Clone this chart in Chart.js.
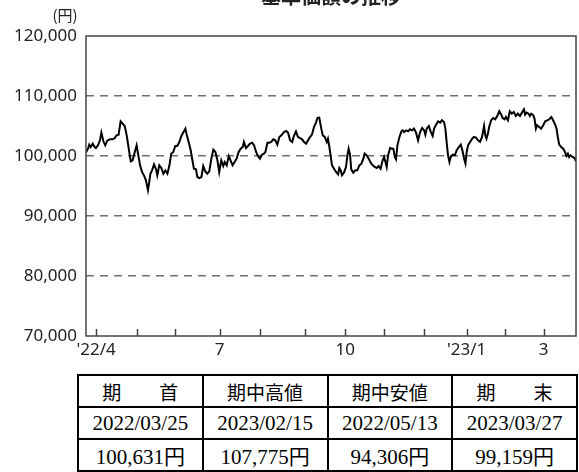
<!DOCTYPE html>
<html lang="ja">
<head>
<meta charset="utf-8">
<script src="https://cdn.jsdelivr.net/npm/chart.js@4/dist/chart.umd.min.js"></script>
<style>
  body { margin: 0; background: #fff; width: 579px; height: 472px; overflow: hidden; position: relative; }
  #chartBox { position: absolute; left: 0; top: 0; width: 579px; height: 372px; }
  table {
    position: absolute; left: 77px; top: 374px; width: 501px;
    border-collapse: collapse; table-layout: fixed;
    font-family: "Liberation Serif", "Noto Sans CJK JP", serif; font-size: 21px; color: #000;
  }
  td { border: 2px solid #000; height: 30px; padding: 0; text-align: center; }
  #headRow td { font-size: 19px; }
</style>
</head>
<body>
<div id="chartBox"><canvas id="navChart" width="579" height="372"></canvas></div>
<table>
  <tr id="headRow"></tr>
  <tr id="dateRow"></tr>
  <tr id="valueRow"></tr>
</table>
<script>
// trading days counted from 2022/03/25 (day 0)
const tradingDay = [
  0, 1.0, 1.6, 2.3, 3.3, 4.3, 4.9, 5.9, 6.9, 7.6, 8.6, 9.5, 10.5, 11.8, 13.2, 14.2, 15.1, 16.1, 17.1, 18.1,
  19.1, 20.1, 21.1, 22.1, 23.0, 24.0, 25.0, 25.7, 26.7, 27.7, 28.6, 29.6, 30.6, 31.2, 31.8, 32.6, 33.6, 34.6, 35.2, 36.2,
  37.2, 38.2, 39.2, 40.2, 41.2, 42.1, 43.1, 44.1, 45.1, 46.1, 47.1, 49.1, 49.7, 50.7, 51.7, 52.7, 53.3, 54.3, 55.0, 56.0,
  57.0, 57.9, 58.9, 59.9, 60.9, 61.9, 62.9, 63.9, 64.9, 65.8, 66.8, 67.8, 68.5, 69.5, 70.5, 71.4, 72.4, 73.4, 74.4, 75.4,
  76.4, 77.4, 78.0, 79.0, 80.0, 81.0, 82.0, 83.0, 84.0, 84.9, 85.9, 86.9, 87.9, 88.6, 89.6, 90.5, 91.5, 92.5, 93.5, 94.5,
  95.5, 96.5, 97.8, 98.8, 99.8, 100.8, 101.8, 102.7, 103.7, 104.7, 105.7, 106.7, 107.7, 108.7, 109.7, 110.6, 111.6, 112.6, 113.6, 114.3,
  115.2, 116.2, 116.9, 117.9, 118.9, 119.5, 120.2, 120.8, 121.5, 122.5, 123.5, 124.5, 125.1, 125.8, 126.4, 127.4, 128.4, 129.1, 129.7, 130.4,
  131.0, 132.0, 133.0, 134.0, 135.0, 136.0, 137.0, 137.6, 138.6, 139.6, 140.6, 141.6, 142.6, 143.6, 144.5, 145.5, 146.5, 147.2, 147.9, 148.5,
  149.2, 150.2, 151.2, 151.8, 152.5, 153.1, 153.8, 154.8, 155.8, 156.4, 157.1, 158.1, 159.1, 160.0, 161.0, 162.0, 163.0, 164.0, 165.0, 166.0,
  167.0, 167.6, 168.3, 169.3, 170.2, 171.2, 171.9, 172.9, 173.9, 174.9, 175.8, 176.8, 177.5, 178.1, 178.8, 179.5, 180.1, 181.1, 182.1, 183.1,
  184.1, 185.1, 186.0, 186.7, 187.4, 188.0, 188.7, 189.7, 190.7, 191.6, 192.6, 193.6, 194.6, 195.6, 196.6, 197.2, 197.8, 198.5, 199.1, 200.1,
  201.1, 202.1, 203.1, 204.1, 205.1, 205.7, 206.7, 207.4, 208.4, 209.3, 210.3, 211.3, 212.3, 213.3, 214.3, 215.3, 216.3, 216.9, 217.6, 218.6,
  219.2, 219.9, 220.9, 221.5, 222.2, 222.8, 223.8, 224.8, 225.8, 226.8, 227.8, 228.8, 229.8, 230.7, 231.7, 232.4, 233.0, 233.7, 234.7, 235.7,
  236.7, 237.3, 238.0, 238.6, 239.3, 240.3, 241.3, 241.9
];
const nav = [
  100631, 101220, 101890, 101500, 102060, 101500, 101330, 101780, 102610, 103890, 102450, 101780, 102560, 102780, 102780, 103000, 103450, 103560, 105780, 105390,
  105000, 103450, 101220, 99110, 99280, 100560, 101780, 100390, 98440, 97330, 96780, 95940, 94306, 95550, 97050, 97610, 98610, 97780, 96780, 98440,
  98000, 97050, 97610, 97050, 98440, 100390, 100670, 101670, 101670, 102340, 103340, 104560, 103560, 102340, 100950, 99000, 97890, 97780, 96500, 96330,
  96500, 98330, 97440, 97050, 97440, 99560, 101060, 100670, 99280, 97330, 99280, 98330, 99000, 98440, 100000, 99280, 98440, 99000, 99560, 100670,
  101220, 101500, 102340, 101330, 101670, 102060, 102220, 101780, 100670, 100000, 99560, 100220, 100390, 100670, 102220, 102220, 102340, 102780, 102610, 101890,
  103170, 103450, 104000, 104170, 103890, 102610, 102340, 103340, 104110, 103170, 103000, 102780, 102340, 102060, 102610, 103170, 103560, 104840, 105560, 106340,
  106390, 104560, 103450, 103170, 102340, 102890, 101500, 100110, 98440, 97890, 97330, 96940, 98000, 97610, 96780, 97220, 98170, 100110, 101220, 100220,
  97780, 97220, 97610, 97610, 98440, 98720, 99560, 100390, 100110, 99560, 98890, 98440, 98170, 98000, 98330, 97890, 99280, 99830, 99000, 98170,
  100110, 101330, 101220, 101220, 99830, 99440, 101780, 103170, 104110, 104280, 104000, 104280, 104110, 104450, 104280, 104560, 103890, 102610, 104000, 104670,
  104280, 103560, 104560, 105000, 104110, 103340, 104560, 105230, 105780, 105560, 105950, 105670, 104560, 102340, 100110, 99000, 99830, 100220, 100110, 100950,
  101500, 101890, 100780, 99560, 98720, 100670, 101780, 102340, 102890, 103170, 103060, 102610, 102340, 103170, 105000, 103450, 102890, 103730, 104840, 105950,
  106340, 106120, 106670, 107450, 106890, 106340, 106120, 106510, 105950, 107450, 107060, 107340, 106670, 107060, 106670, 107230, 107775, 106890, 107230, 107060,
  106670, 107060, 106780, 106230, 104560, 105120, 104840, 104560, 105120, 105780, 105950, 106120, 106510, 105950, 105230, 104560, 103170, 101890, 101500, 101220,
  100560, 100000, 100390, 99830, 100110, 99830, 99670, 99159
];

// first trading day of each month, and its label
const monthStart = [5, 25, 44, 66, 86, 108, 128, 147, 167, 188, 207, 226];
const monthLabel = ["'22/4", '', '', '7', '', '', '10', '', '', "'23/1", '', '3'];
const lastDay = 242;

const yMin = 70000, yMax = 120000, yStep = 10000;

const tableHead = ['期　　首', '期中高値', '期中安値', '期　　末'];
const tableDate = ['2022/03/25', '2023/02/15', '2022/05/13', '2023/03/27'];
const tableValue = ['100,631円', '107,775円', '94,306円', '99,159円'];

document.addEventListener('DOMContentLoaded', () => {
    const fill = (id, items) => {
        const row = document.getElementById(id);
        items.forEach(t => {
            const td = document.createElement('td');
            td.textContent = t;
            row.appendChild(td);
        });
    };
    fill('headRow', tableHead);
    fill('dateRow', tableDate);
    fill('valueRow', tableValue);

    const tickFont = { family: '"Noto Sans", sans-serif', size: 17 };

    // frame, inner ticks, title and unit label
    const decor = {
        id: 'decor',
        afterDatasetsDraw(chart) {
            const { ctx, chartArea: a, scales } = chart;
            ctx.save();
            ctx.strokeStyle = '#444';
            ctx.lineWidth = 1.5;
            ctx.beginPath();
            monthStart.forEach(d => {
                const x = Math.round(scales.x.getPixelForValue(d)) + 0.5;
                ctx.moveTo(x, a.bottom);
                ctx.lineTo(x, a.bottom - 7);
            });
            ctx.stroke();
            ctx.strokeRect(a.left, a.top, a.right - a.left, a.bottom - a.top);

            ctx.fillStyle = '#222';
            ctx.textAlign = 'center';
            ctx.font = '15px "Noto Sans CJK JP", sans-serif';
            ctx.textBaseline = 'middle';
            ctx.fillText('(円)', 65, 15);
            ctx.font = 'bold 20px "Noto Sans CJK JP", sans-serif';
            ctx.textBaseline = 'alphabetic';
            ctx.fillText('基準価額の推移', (a.left + a.right) / 2, 4);
            ctx.restore();
        }
    };

    new Chart(document.getElementById('navChart'), {
        type: 'line',
        data: {
            datasets: [{
                data: tradingDay.map((d, i) => ({ x: d, y: nav[i] })),
                borderColor: '#000',
                borderWidth: 2,
                pointRadius: 0,
                tension: 0,
                fill: false,
            }],
        },
        options: {
            responsive: false,
            animation: false,
            layout: { padding: { top: 36, right: 3, left: 0, bottom: 0 } },
            plugins: { legend: { display: false }, tooltip: { enabled: false } },
            scales: {
                x: {
                    type: 'linear',
                    min: 0,
                    max: lastDay,
                    afterBuildTicks: scale => { scale.ticks = monthStart.map(v => ({ value: v })); },
                    afterFit: scale => { scale.height = 36; },
                    grid: { display: false, drawTicks: false },
                    border: { display: false },
                    ticks: {
                        autoSkip: false,
                        maxRotation: 0,
                        padding: 4,
                        color: '#222',
                        font: tickFont,
                        callback: v => monthLabel[monthStart.indexOf(v)],
                    },
                },
                y: {
                    min: yMin,
                    max: yMax,
                    afterFit: scale => { scale.width = 86; },
                    grid: {
                        drawTicks: false,
                        color: ctx => (ctx.tick.value === yMin || ctx.tick.value === yMax) ? 'rgba(0,0,0,0)' : '#6e6e6e',
                        lineWidth: 1.5,
                    },
                    border: { display: false, dash: [8, 6] },
                    ticks: {
                        stepSize: yStep,
                        padding: 9,
                        color: '#222',
                        font: tickFont,
                        callback: v => v.toLocaleString('en-US'),
                    },
                },
            },
        },
        plugins: [decor],
    });
});
</script>
</body>
</html>
